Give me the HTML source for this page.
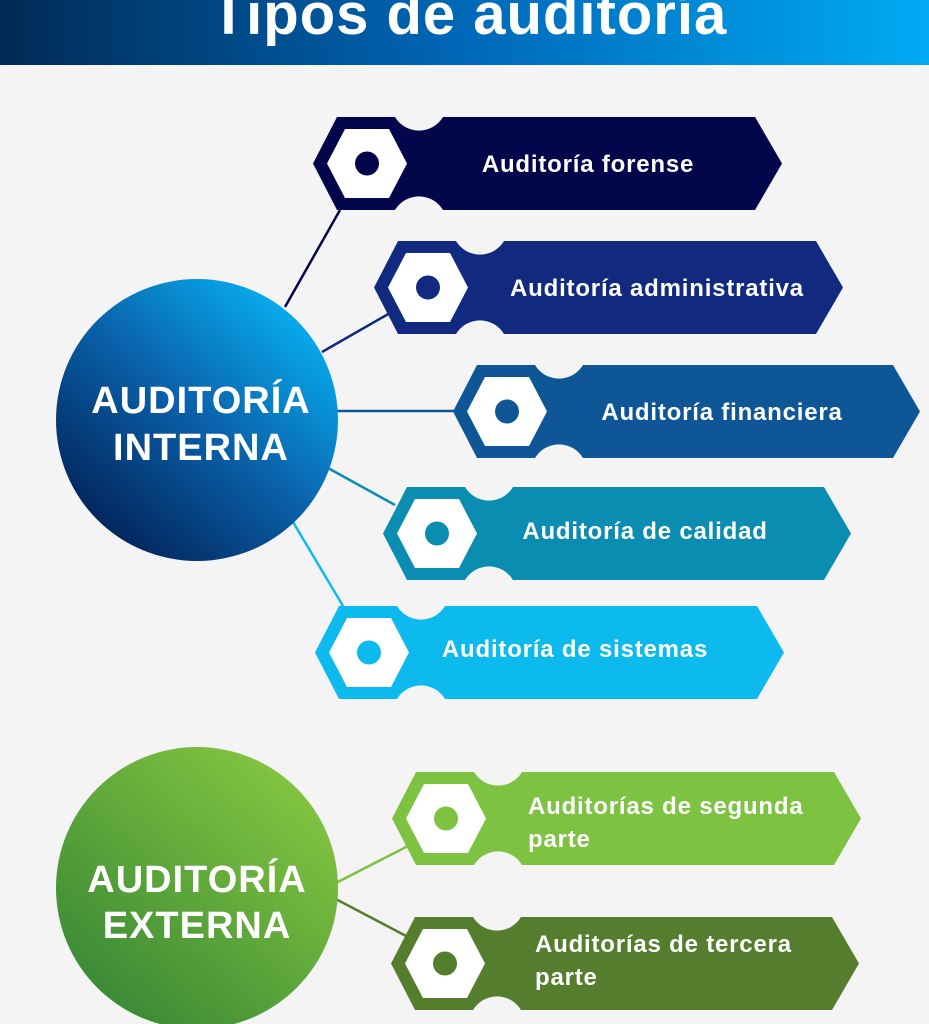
<!DOCTYPE html>
<html><head><meta charset="utf-8"><style>
html,body{margin:0;padding:0;background:#f4f4f4;}
svg{display:block;}
text{font-family:"Liberation Sans",sans-serif;font-weight:bold;fill:#fff;}
.l{font-size:24px;letter-spacing:0.8px;}
.c{font-size:38px;letter-spacing:1px;}
</style></head><body>
<svg width="929" height="1024" viewBox="0 0 929 1024" xmlns="http://www.w3.org/2000/svg">
<defs>
<linearGradient id="hd" x1="0" y1="0" x2="1" y2="0"><stop offset="0" stop-color="#012a55"/><stop offset="0.5" stop-color="#0068b8"/><stop offset="1" stop-color="#00aaf2"/></linearGradient>
<linearGradient id="ci" x1="0.15" y1="0.9" x2="0.85" y2="0.1"><stop offset="0" stop-color="#02245a"/><stop offset="0.5" stop-color="#0a5fa8"/><stop offset="1" stop-color="#08aef0"/></linearGradient>
<linearGradient id="ce" x1="0.15" y1="0.9" x2="0.85" y2="0.1"><stop offset="0" stop-color="#3a8a36"/><stop offset="1" stop-color="#84c540"/></linearGradient>
</defs>
<rect width="929" height="1024" fill="#f4f4f4"/>
<rect width="929" height="65" fill="url(#hd)"/>
<text x="469" y="34" font-size="58" text-anchor="middle" letter-spacing="1">Tipos de auditoría</text>

<g stroke-width="2.5">
<line x1="285" y1="307" x2="340" y2="210" stroke="#03064a"/>
<line x1="322" y1="352" x2="390" y2="313" stroke="#112a80"/>
<line x1="330" y1="411" x2="455" y2="411" stroke="#0f5696"/>
<line x1="328" y1="468" x2="395" y2="505" stroke="#0a8db0"/>
<line x1="293" y1="522" x2="343" y2="606" stroke="#0cbaee"/>
<line x1="330" y1="886" x2="408" y2="846" stroke="#7dc241"/>
<line x1="330" y1="896" x2="408" y2="937" stroke="#547e2d"/>
</g>

<circle cx="197" cy="420" r="141" fill="url(#ci)"/>
<text x="201" y="413" class="c" text-anchor="middle">AUDITORÍA</text>
<text x="201" y="460" class="c" text-anchor="middle">INTERNA</text>
<circle cx="197" cy="888" r="141" fill="url(#ce)"/>
<text x="197" y="892" class="c" text-anchor="middle">AUDITORÍA</text>
<text x="197" y="938" class="c" text-anchor="middle">EXTERNA</text>

<g>
<path d="M313,163.5 L337,117 L395,117 A28 28 0 0 0 443,117 L755,117 L782,163.5 L755,210 L443,210 A28 28 0 0 0 395,210 L337,210 Z" fill="#03064a"/>
<path d="M327,163.5 L345,129 L389,129 L407,163.5 L389,198 L345,198 Z" fill="#fff"/>
<circle cx="367" cy="163.5" r="12" fill="#03064a"/>
<text x="588" y="172" class="l" text-anchor="middle">Auditoría forense</text>
</g>
<g>
<path d="M374,287.5 L398,241 L456,241 A28 28 0 0 0 504,241 L816,241 L843,287.5 L816,334 L504,334 A28 28 0 0 0 456,334 L398,334 Z" fill="#112a80"/>
<path d="M388,287.5 L406,253 L450,253 L468,287.5 L450,322 L406,322 Z" fill="#fff"/>
<circle cx="428" cy="287.5" r="12" fill="#112a80"/>
<text x="657" y="296" class="l" text-anchor="middle">Auditoría administrativa</text>
</g>
<g>
<path d="M453,411.5 L477,365 L535,365 A28 28 0 0 0 583,365 L893,365 L920,411.5 L893,458 L583,458 A28 28 0 0 0 535,458 L477,458 Z" fill="#0f5696"/>
<path d="M467,411.5 L485,377 L529,377 L547,411.5 L529,446 L485,446 Z" fill="#fff"/>
<circle cx="507" cy="411.5" r="12" fill="#0f5696"/>
<text x="722" y="420" class="l" text-anchor="middle">Auditoría financiera</text>
</g>
<g>
<path d="M383,533.5 L407,487 L465,487 A28 28 0 0 0 513,487 L824,487 L851,533.5 L824,580 L513,580 A28 28 0 0 0 465,580 L407,580 Z" fill="#0a8db0"/>
<path d="M397,533.5 L415,499 L459,499 L477,533.5 L459,568 L415,568 Z" fill="#fff"/>
<circle cx="437" cy="533.5" r="12" fill="#0a8db0"/>
<text x="645" y="539" class="l" text-anchor="middle">Auditoría de calidad</text>
</g>
<g>
<path d="M315,652.5 L339,606 L397,606 A28 28 0 0 0 445,606 L757,606 L784,652.5 L757,699 L445,699 A28 28 0 0 0 397,699 L339,699 Z" fill="#0cbaee"/>
<path d="M329,652.5 L347,618 L391,618 L409,652.5 L391,687 L347,687 Z" fill="#fff"/>
<circle cx="369" cy="652.5" r="12" fill="#0cbaee"/>
<text x="575" y="657" class="l" text-anchor="middle">Auditoría de sistemas</text>
</g>
<g>
<path d="M392,818.5 L416,772 L474,772 A28 28 0 0 0 522,772 L834,772 L861,818.5 L834,865 L522,865 A28 28 0 0 0 474,865 L416,865 Z" fill="#7dc241"/>
<path d="M406,818.5 L424,784 L468,784 L486,818.5 L468,853 L424,853 Z" fill="#fff"/>
<circle cx="446" cy="818.5" r="12" fill="#7dc241"/>
<text x="528" y="814" class="l">Auditorías de segunda</text>
<text x="528" y="847" class="l">parte</text>
</g>
<g>
<path d="M391,963.5 L415,917 L473,917 A28 28 0 0 0 521,917 L832,917 L859,963.5 L832,1010 L521,1010 A28 28 0 0 0 473,1010 L415,1010 Z" fill="#547e2d"/>
<path d="M405,963.5 L423,929 L467,929 L485,963.5 L467,998 L423,998 Z" fill="#fff"/>
<circle cx="445" cy="963.5" r="12" fill="#547e2d"/>
<text x="535" y="952" class="l">Auditorías de tercera</text>
<text x="535" y="985" class="l">parte</text>
</g>
</svg>
</body></html>
